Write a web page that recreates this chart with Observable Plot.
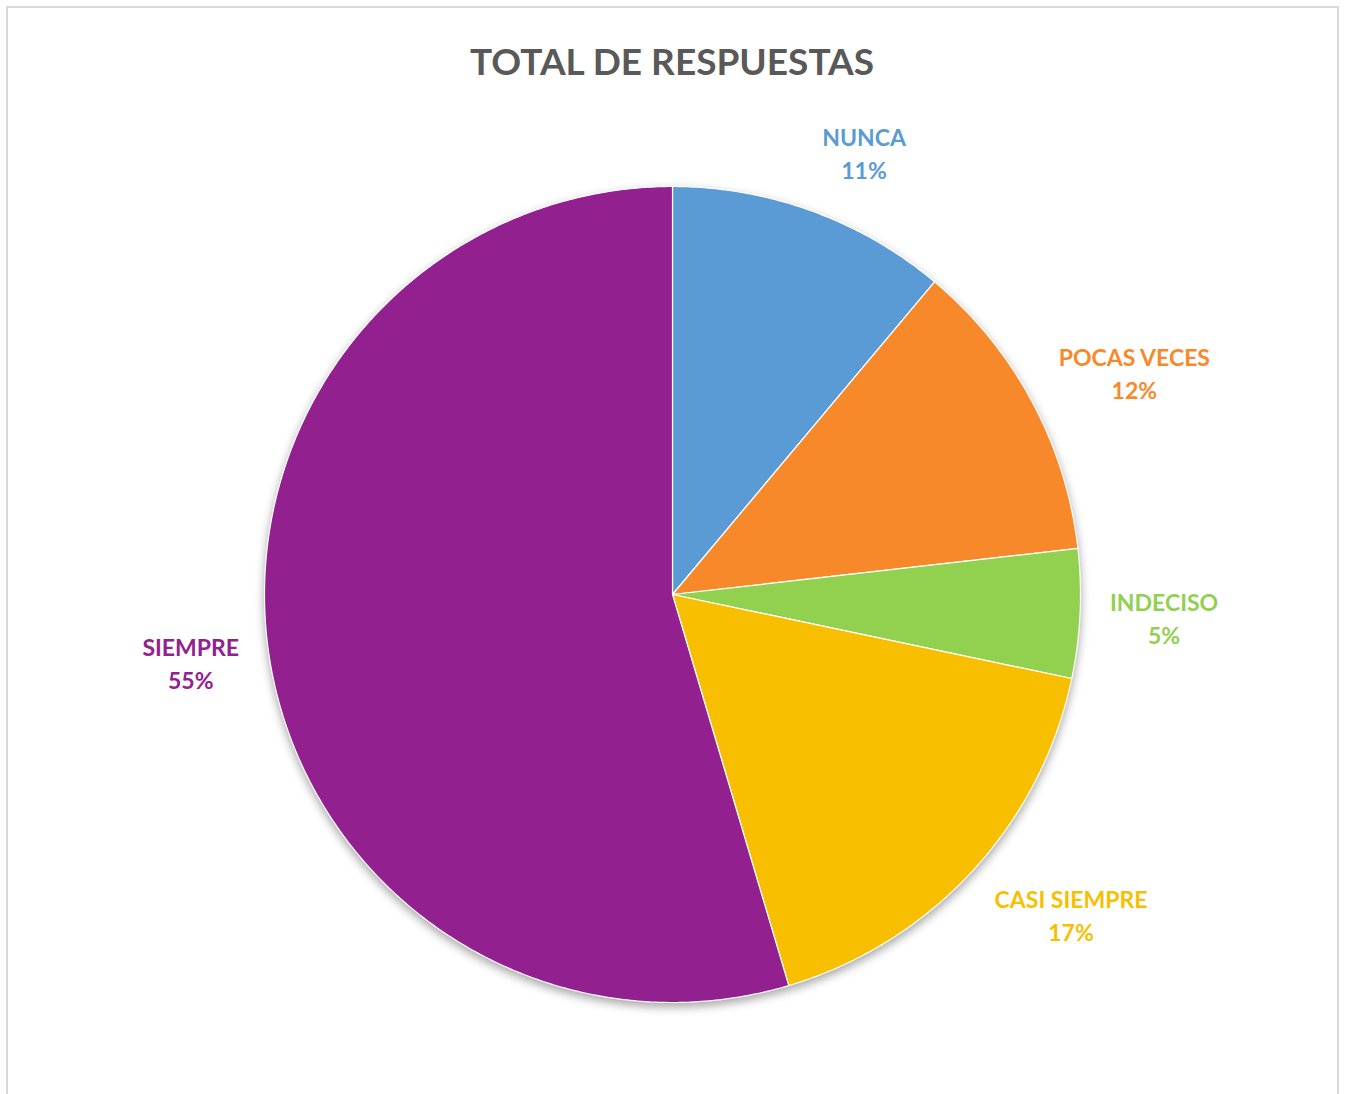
<!DOCTYPE html>
<html>
<head>
<meta charset="utf-8">
<script src="https://cdn.jsdelivr.net/npm/d3@7"></script>
<script src="https://cdn.jsdelivr.net/npm/@observablehq/plot@0.6"></script>
<style>
  html, body { margin: 0; padding: 0; background: #fff; }
  body { width: 1346px; height: 1094px; position: relative; overflow: hidden; font-family: Lato, "Open Sans", sans-serif; }
  #frame { position: absolute; left: 6px; top: 6px; width: 1329px; height: 1200px; border: 2px solid #d9d9d9; box-sizing: content-box; }
  #title { position: absolute; left: 0; width: 1344px; top: 40px; text-align: center; font: bold 37px Lato, sans-serif; color: #595959; line-height: 42px; }
  #chart { position: absolute; left: 0; top: 110px; }
  #chart g[aria-label="line"] { filter: drop-shadow(0px 4px 5px rgba(0,0,0,0.35)); }
</style>
</head>
<body>
<div id="frame"></div>
<div id="title">TOTAL DE RESPUESTAS</div>
<div id="chart"></div>
<script>
const categories = ["NUNCA", "POCAS VECES", "INDECISO", "CASI SIEMPRE", "SIEMPRE"];
const values = [11.1, 12.1, 5.1, 17.1, 54.6];
const percentLabels = ["11%", "12%", "5%", "17%", "55%"];
const colors = ["#5B9BD5", "#F8892A", "#92D050", "#F8BF00", "#92208F"];

const W = 1346, H = 984;
const R = 408;            // pie radius in px
const cx = 672, cy = 484; // pie centre in svg px
// 1 data unit = R px
const xDomain = [-cx / R, (W - cx) / R];
const yDomain = [-(H - cy) / R, cy / R];

const arcs = d3.pie().sort(null).value(d => d.value)(
  categories.map((name, i) => ({name, value: values[i], pct: percentLabels[i]}))
);

// slice polygons
const pts = [];
for (const a of arcs) {
  pts.push({name: a.data.name, x: 0, y: 0});
  const n = Math.max(4, Math.ceil((a.endAngle - a.startAngle) / (Math.PI / 360)));
  for (let k = 0; k <= n; k++) {
    const t = a.startAngle + (a.endAngle - a.startAngle) * k / n;
    pts.push({name: a.data.name, x: Math.sin(t), y: Math.cos(t)});
  }
}

// label positions outside the pie
const fontSize = 23, lineH = 33;
const ctx = document.createElement("canvas").getContext("2d");
ctx.font = "bold " + fontSize + "px Lato";
const labels = arcs.map(a => {
  const m = (a.startAngle + a.endAngle) / 2;
  const s = Math.sin(m), c = Math.cos(m);
  const hw = Math.max(ctx.measureText(a.data.name).width, ctx.measureText(a.data.pct).width) / 2;
  const hh = lineH;
  const d = R + 30;
  const px = s * d + Math.sign(s) * hw;
  const py = c * d + c * hh;
  return {name: a.data.name, text: a.data.name + "\n" + a.data.pct, x: px / R, y: py / R};
});

const plot = Plot.plot({
  width: W,
  height: H,
  margin: 0,
  x: {domain: xDomain, axis: null},
  y: {domain: yDomain, axis: null},
  color: {domain: categories, range: colors},
  marks: [
    Plot.line(pts, {x: "x", y: "y", z: "name", fill: "name", stroke: "white", strokeWidth: 1.2, curve: "linear-closed"}),
    Plot.text(labels, {x: "x", y: "y", text: "text", fill: "name", fontSize: fontSize, fontWeight: "bold", fontFamily: "Lato", lineHeight: lineH / fontSize, textAnchor: "middle", lineAnchor: "middle"})
  ]
});
document.getElementById("chart").appendChild(plot);
</script>
</body>
</html>
